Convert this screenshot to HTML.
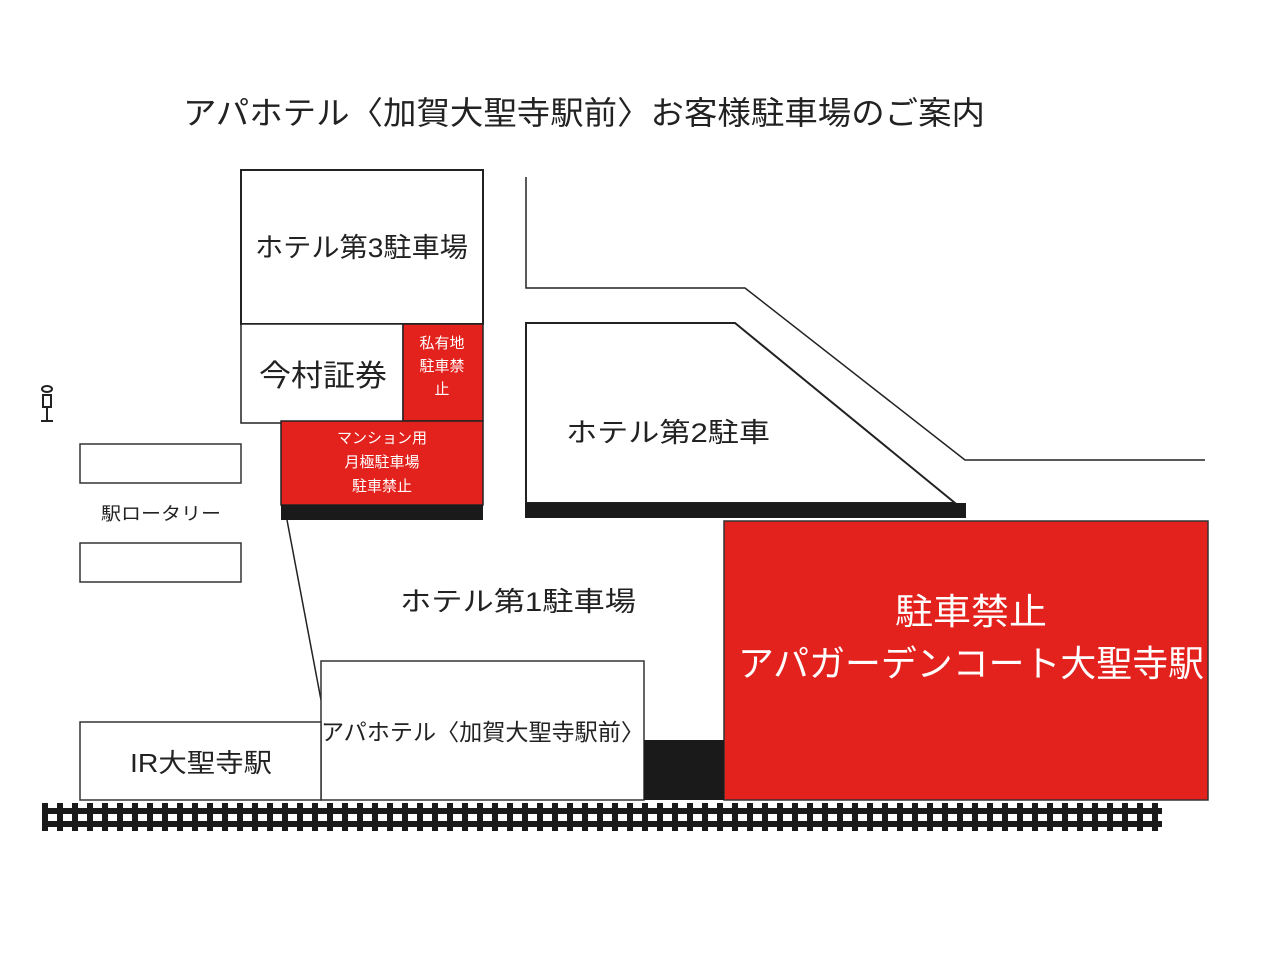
<!DOCTYPE html>
<html><head><meta charset="utf-8"><style>
html,body{margin:0;padding:0;background:#fff}
svg{display:block}
text{font-family:"Liberation Sans","Noto Sans CJK JP",sans-serif}
</style></head><body>
<svg width="1280" height="960" viewBox="0 0 1280 960" xmlns="http://www.w3.org/2000/svg">
<rect width="1280" height="960" fill="#fff"/>
<text x="183" y="124" font-size="32" textLength="802" lengthAdjust="spacingAndGlyphs" fill="#222">アパホテル〈加賀大聖寺駅前〉お客様駐車場のご案内</text>

<rect x="241" y="170" width="242" height="154" fill="#fff" stroke="#222" stroke-width="2"/>
<text x="255" y="257" font-size="27" textLength="213" lengthAdjust="spacingAndGlyphs" fill="#222">ホテル第3駐車場</text>
<rect x="241" y="324" width="162" height="99" fill="#fff" stroke="#222" stroke-width="1.5"/>
<text x="259" y="386" font-size="30" textLength="128" lengthAdjust="spacingAndGlyphs" fill="#222">今村証券</text>
<rect x="403" y="324" width="80" height="97" fill="#e3211d" stroke="#222" stroke-width="1.5"/>
<g fill="#fff" font-size="15" text-anchor="middle">
<text x="442" y="348">私有地</text><text x="442" y="371">駐車禁</text><text x="442" y="394">止</text></g>
<rect x="281" y="421" width="202" height="84" fill="#e3211d" stroke="#222" stroke-width="1.5"/>
<rect x="281" y="505" width="202" height="15" fill="#1a1a1a"/>
<g fill="#fff" font-size="15" text-anchor="middle">
<text x="382" y="443">マンション用</text><text x="382" y="467">月極駐車場</text><text x="382" y="491">駐車禁止</text></g>
<line x1="287" y1="520" x2="321" y2="700" stroke="#222" stroke-width="1.5"/>

<rect x="80" y="444" width="161" height="39" fill="#fff" stroke="#333" stroke-width="1.5"/>
<rect x="80" y="543" width="161" height="39" fill="#fff" stroke="#333" stroke-width="1.5"/>
<text x="101" y="520" font-size="18" textLength="120" lengthAdjust="spacingAndGlyphs" fill="#222">駅ロータリー</text>
<g stroke="#222" stroke-width="2" fill="none">
<ellipse cx="47" cy="389" rx="5" ry="3"/>
<rect x="43" y="395" width="8" height="12"/>
<line x1="47" y1="407" x2="47" y2="420"/><line x1="41" y1="421" x2="53" y2="421"/></g>

<polyline points="526,177 526,288 745,288 965,460 1205,460" fill="none" stroke="#222" stroke-width="1.5"/>
<polygon points="526,323 735,323 955,503 526,503" fill="#fff" stroke="#222" stroke-width="2"/>
<rect x="525" y="503" width="441" height="15" fill="#1a1a1a"/>
<text x="566" y="442" font-size="27" textLength="204" lengthAdjust="spacingAndGlyphs" fill="#222">ホテル第2駐車</text>

<text x="400" y="611" font-size="27" textLength="236" lengthAdjust="spacingAndGlyphs" fill="#222">ホテル第1駐車場</text>

<rect x="724" y="521" width="484" height="279" fill="#e3211d" stroke="#333" stroke-width="1.5"/>
<text x="895" y="624" font-size="36" textLength="152" lengthAdjust="spacingAndGlyphs" fill="#fff">駐車禁止</text>
<text x="738" y="676" font-size="36" textLength="466" lengthAdjust="spacingAndGlyphs" fill="#fff">アパガーデンコート大聖寺駅</text>

<rect x="321" y="661" width="323" height="139" fill="#fff" stroke="#333" stroke-width="1.5"/>
<text x="321" y="740" font-size="23" textLength="323" lengthAdjust="spacingAndGlyphs" fill="#222">アパホテル〈加賀大聖寺駅前〉</text>
<rect x="644" y="740" width="80" height="60" fill="#1a1a1a"/>
<rect x="80" y="722" width="241" height="78" fill="#fff" stroke="#333" stroke-width="1.5"/>
<text x="130" y="772" font-size="26" textLength="142" lengthAdjust="spacingAndGlyphs" fill="#222">IR大聖寺駅</text>

<defs><pattern id="ties" x="42" y="0" width="15" height="960" patternUnits="userSpaceOnUse">
<rect x="0" y="803" width="6" height="28" fill="#1a1a1a"/></pattern></defs>
<rect x="42" y="803" width="1120" height="28" fill="url(#ties)"/>
<rect x="42" y="808" width="1120" height="6" fill="#1a1a1a"/>
<rect x="42" y="821" width="1120" height="6" fill="#1a1a1a"/>
</svg>
</body></html>
